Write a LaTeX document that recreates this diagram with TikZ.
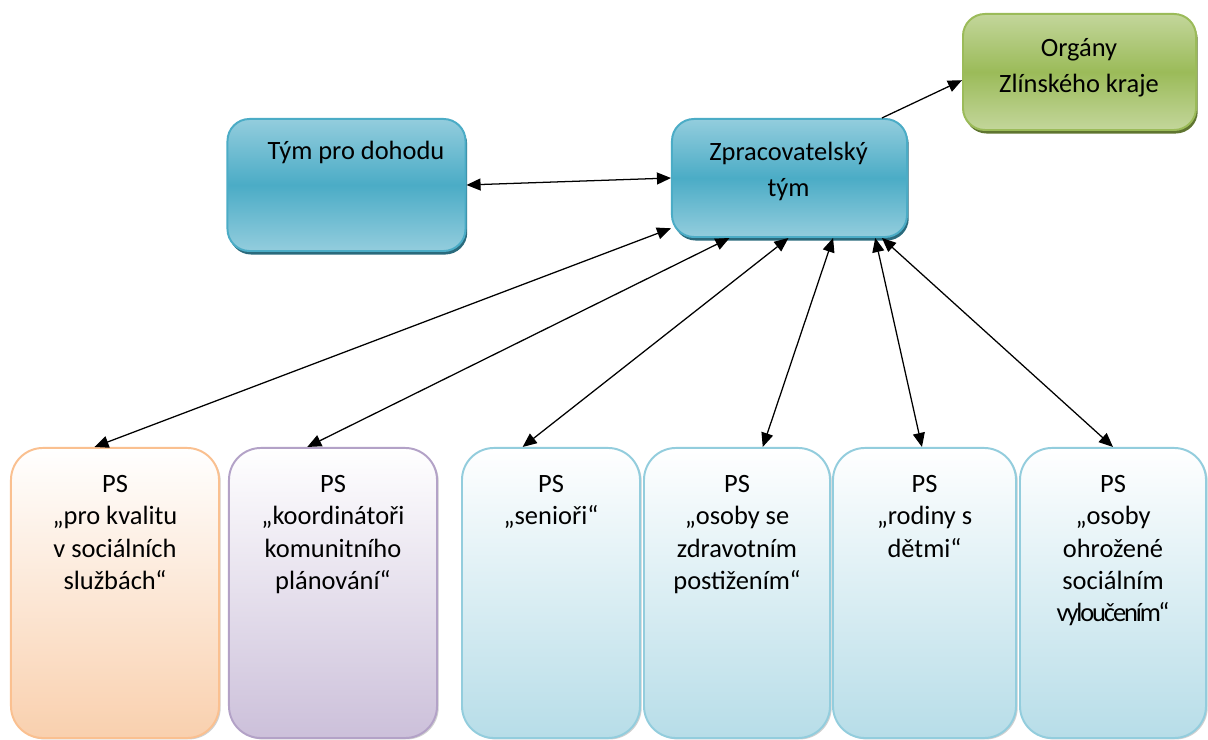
\documentclass[tikz,border=0pt]{standalone}
\usepackage{fontspec}
\setmainfont{Carlito}
\usetikzlibrary{arrows.meta, positioning, shadows}

\definecolor{tymlight}{HTML}{93CDDD}
\definecolor{tymdark}{HTML}{4BACC6}
\definecolor{tymshadow}{HTML}{2A6A7C}
\definecolor{orglight}{HTML}{C3D69B}
\definecolor{orgdark}{HTML}{9BBB59}
\definecolor{orgshadow}{HTML}{5F7530}
\definecolor{kvalborder}{HTML}{FAC090}
\definecolor{kvalfill}{HTML}{F9D0AE}
\definecolor{koordborder}{HTML}{B3A2C7}
\definecolor{koordfill}{HTML}{CCC0DA}
\definecolor{psborder}{HTML}{93CDDD}
\definecolor{psfill}{HTML}{B7DDE8}

\begin{document}
\begin{tikzpicture}[x=0.025cm, y=-0.025cm,
  topbox/.style={draw, rounded corners=0.55cm, line width=1.4pt, inner sep=0pt},
  tymbox/.style={topbox, draw=tymdark, top color=tymlight, bottom color=tymlight,
    middle color=tymdark,
    drop shadow={shadow xshift=1.2pt, shadow yshift=-2.5pt, fill=tymshadow, opacity=1}},
  orgbox/.style={topbox, draw=orgdark, top color=orglight, bottom color=orglight,
    middle color=orgdark,
    drop shadow={shadow xshift=1.2pt, shadow yshift=-2.5pt, fill=orgshadow, opacity=1}},
  psbox/.style={draw=psborder, rounded corners=0.8cm, line width=1.4pt, inner sep=0pt,
    minimum height=7.25cm, top color=white, bottom color=psfill,
    drop shadow={shadow xshift=1.2pt, shadow yshift=-1pt, fill=black!60, opacity=0.3}},
  boxtext/.style={align=center, inner sep=0pt, anchor=base,
    font=\fontsize{18.8}{25.6}\selectfont},
  pstext/.style={boxtext, anchor=north, font=\fontsize{18.8}{23}\selectfont},
  link/.style={line width=0.9pt,
    {Triangle[length=10pt,width=8.5pt]}-{Triangle[length=10pt,width=8.5pt]}},
  onelink/.style={line width=0.9pt, -{Triangle[length=10pt,width=8.5pt]}}
]
\useasboundingbox (0,0) rectangle (1208,740);

% horni rada
\node at (346.5,185) (tym) [tymbox, minimum width=5.95cm, minimum height=3.3cm] {};
\node at (789.5,178) (zprac) [tymbox, minimum width=5.875cm, minimum height=2.95cm] {};
\node at (1079.5,72) (organy) [orgbox, minimum width=5.825cm, minimum height=2.9cm] {};

% texty: y = uctari posledniho radku
\node at (356,160) (tymtext) [boxtext] {Tým pro dohodu};
\node at (788.5,196.7) (zpractext) [boxtext] {Zpracovatelský\\tým};
\node at (1079,92.7) (organytext) [boxtext] {Orgány\\Zlínského kraje};

% pracovni skupiny
\node at (115,593) (pskval) [psbox, draw=kvalborder, bottom color=kvalfill,
  minimum width=5.2cm] {};
\node at (333,593) (pskoord) [psbox, draw=koordborder, bottom color=koordfill,
  minimum width=5.2cm] {};
\node at (551,593) (psseni) [psbox, minimum width=4.45cm] {};
\node at (737,593) (pszdrav) [psbox, minimum width=4.65cm] {};
\node at (924.5,593) (psrodin) [psbox, minimum width=4.575cm] {};
\node at (1113,593) (psvylouc) [psbox, minimum width=4.65cm] {};

% texty skupin: y = horni okraj "PS"
\node at (115,475) (pskvaltext) [pstext] {PS\\„pro kvalitu\\v sociálních\\službách“};
\node at (333,475) (pskoordtext) [pstext] {PS\\„koordinátoři\\komunitního\\plánování“};
\node at (551,475) (pssenitext) [pstext] {PS\\„senioři“};
\node at (737,475) (pszdravtext) [pstext] {PS\\„osoby se\\zdravotním\\postižením“};
\node at (924.5,475) (psrodintext) [pstext] {PS\\„rodiny s\\dětmi“};
\node at (1113,475) (psvylouctext) [pstext]
  {PS\\„osoby\\ohrožené\\sociálním\\{\addfontfeature{LetterSpace=-8}vyloučením“}};

% spojnice
\draw[link] (tym.east) -- (zprac.west);
\draw[onelink] (zprac.33) -- (organy.184);
\draw[link] (pskval.98) -- (zprac.203);
\draw[link] (pskoord.100.5) -- (zprac.225);
\draw[link] (psseni.101) -- (zprac.269);
\draw[link] (pszdrav.80.6) -- (zprac.306);
\draw[link] (psrodin.91) -- (zprac.325);
\draw[link] (psvylouc.90) -- (zprac.327);
\end{tikzpicture}
\end{document}
